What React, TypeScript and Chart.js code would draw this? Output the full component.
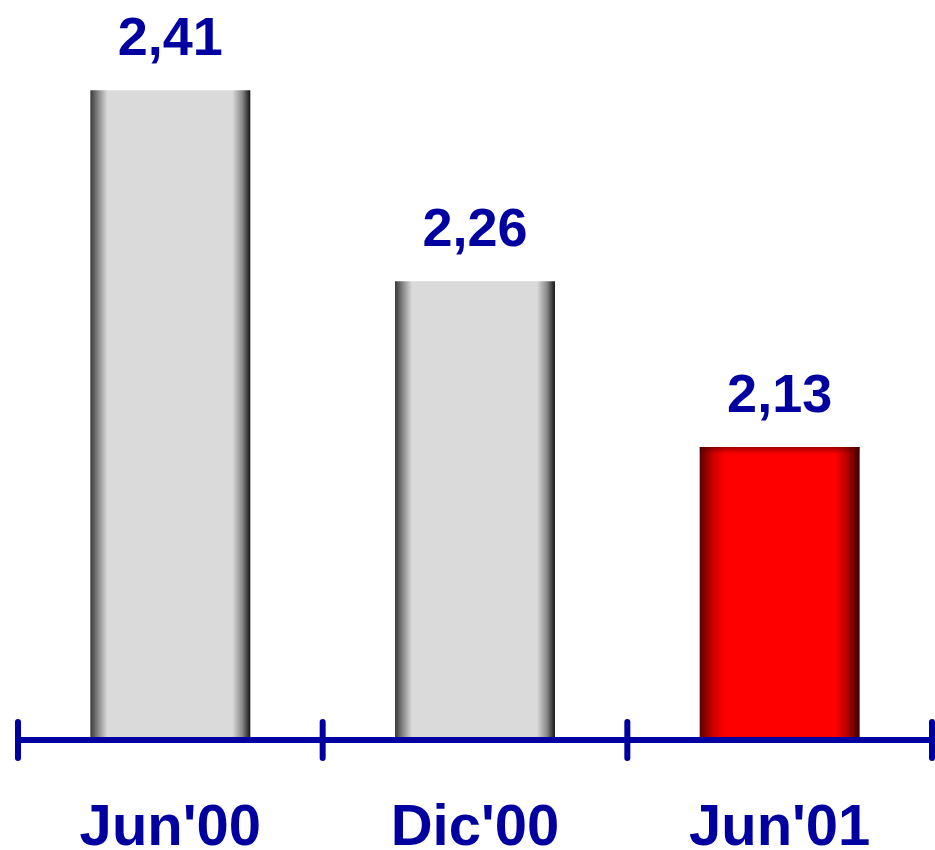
import React, { useEffect, useRef } from "react";
import { Chart, registerables } from "chart.js";

Chart.register(...registerables);

const categories = ["Jun'00", "Dic'00", "Jun'01"];
const values = [2.41, 2.26, 2.13];
const valueLabels = ["2,41", "2,26", "2,13"];
const barKinds = ["gray", "gray", "red"];

const BLUE = "#0000A0";
const BAR_FRACTION = 0.525;

function catWidth(chart: any) {
  const x = chart.scales.x;
  return (x.right - x.left) / categories.length;
}

function barFill(ctx: any) {
  const chart = ctx.chart;
  const area = chart.chartArea;
  if (!area || !chart.scales.x) return "#dadada";
  const x = chart.scales.x;
  const cx = x.getPixelForValue(ctx.dataIndex);
  const half = (catWidth(chart) * BAR_FRACTION) / 2;
  const l = cx - half;
  const r = cx + half;
  const w = r - l;
  const g = chart.ctx.createLinearGradient(l, 0, r, 0);
  if (barKinds[ctx.dataIndex] === "red") {
    g.addColorStop(0, "#5a0000");
    g.addColorStop(14 / w, "#d00000");
    g.addColorStop(26 / w, "#ff0000");
    g.addColorStop(1 - 24 / w, "#ff0000");
    g.addColorStop(1 - 12 / w, "#b00000");
    g.addColorStop(1, "#3a0000");
  } else {
    g.addColorStop(0, "#383838");
    g.addColorStop(8 / w, "#8a8a8a");
    g.addColorStop(17 / w, "#dadada");
    g.addColorStop(1 - 18 / w, "#dadada");
    g.addColorStop(1 - 8 / w, "#888888");
    g.addColorStop(1, "#141414");
  }
  return g;
}

const decorPlugin = {
  id: "decor",
  afterDatasetsDraw(chart: any) {
    const c = chart.ctx;
    const area = chart.chartArea;
    const x = chart.scales.x;
    const meta = chart.getDatasetMeta(0);
    const cw = catWidth(chart);
    c.save();
    // top shading on red bar
    meta.data.forEach((el: any, i: number) => {
      if (barKinds[i] === "red") {
        const half = el.width / 2;
        const g = c.createLinearGradient(0, el.y, 0, el.y + 7);
        g.addColorStop(0, "rgba(80,0,0,0.55)");
        g.addColorStop(1, "rgba(80,0,0,0)");
        c.fillStyle = g;
        c.fillRect(el.x - half, el.y, el.width, 7);
      }
    });
    // axis line
    const y0 = area.bottom;
    c.strokeStyle = BLUE;
    c.lineWidth = 6;
    c.lineCap = "butt";
    c.beginPath();
    c.moveTo(area.left, y0);
    c.lineTo(area.right, y0);
    c.stroke();
    // tick marks at category boundaries
    c.lineCap = "round";
    for (let i = 0; i <= categories.length; i++) {
      const px = i < categories.length ? x.getPixelForValue(i) - cw / 2 : x.getPixelForValue(categories.length - 1) + cw / 2;
      c.beginPath();
      c.moveTo(px, y0 - 18);
      c.lineTo(px, y0 + 18);
      c.stroke();
    }
    // category labels
    c.fillStyle = BLUE;
    c.textAlign = "center";
    c.textBaseline = "alphabetic";
    c.font = "bold 58px 'Liberation Sans', Arial, sans-serif";
    categories.forEach((lab, i) => {
      c.fillText(lab, x.getPixelForValue(i), y0 + 105);
    });
    // value labels
    c.font = "bold 54px 'Liberation Sans', Arial, sans-serif";
    meta.data.forEach((el: any, i: number) => {
      c.fillText(valueLabels[i], el.x, el.y - 35);
    });
    c.restore();
  },
};

export default function App() {
  const ref = useRef<HTMLCanvasElement>(null);
  useEffect(() => {
    if (!ref.current) return;
    const chart = new Chart(ref.current, {
      type: "bar",
      data: {
        labels: categories,
        datasets: [
          {
            data: values,
            backgroundColor: barFill as any,
            borderWidth: 0,
            barPercentage: BAR_FRACTION,
            categoryPercentage: 1,
          },
        ],
      },
      options: {
        animation: false,
        responsive: true,
        maintainAspectRatio: false,
        layout: { padding: { left: 18, right: 3, top: 1, bottom: 110 } },
        plugins: { legend: { display: false }, tooltip: { enabled: false } },
        scales: {
          x: { display: false },
          y: { display: false, min: 1.9, max: 2.48 },
        },
      },
      plugins: [decorPlugin],
    });
    return () => chart.destroy();
  }, []);
  return (
    <div style={{ position: "fixed", left: 0, top: 0, width: 935, height: 850, background: "#fff" }}>
      <canvas ref={ref} />
    </div>
  );
}
